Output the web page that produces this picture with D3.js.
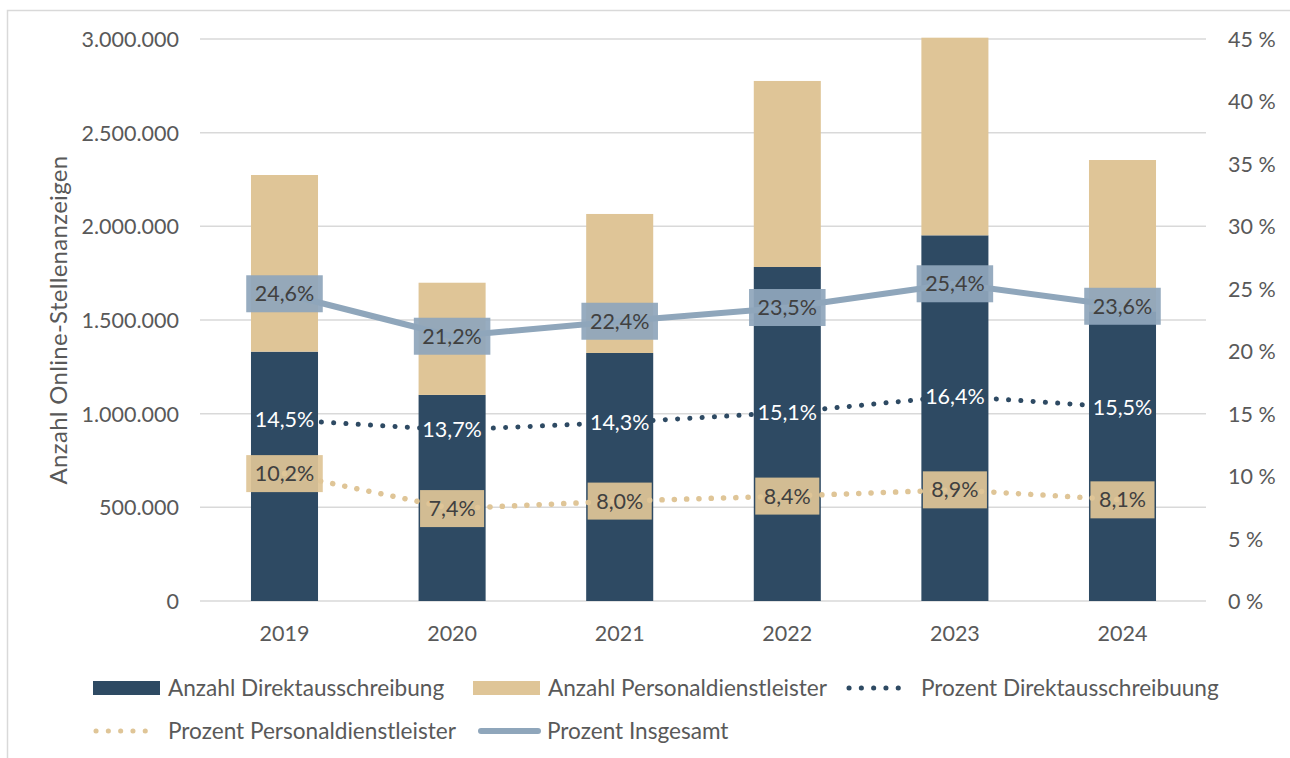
<!DOCTYPE html>
<html><head><meta charset="utf-8">
<script src="https://cdn.jsdelivr.net/npm/d3@7"></script>
<style>body{margin:0;background:#fff}svg{display:block;font-family:Lato,"Open Sans",sans-serif}</style>
</head><body><svg id="c" width="1290" height="758"></svg>
<script>
const years = ["2019","2020","2021","2022","2023","2024"];
const anzahlDirekt = [1331000, 1100000, 1324000, 1783000, 1952000, 1546000];
const anzahlPersonal = [943000, 599000, 742000, 993000, 1055000, 808000];
const prozentDirekt = [14.5, 13.7, 14.3, 15.1, 16.4, 15.5];
const prozentPersonal = [10.2, 7.4, 8.0, 8.4, 8.9, 8.1];
const prozentGesamt = [24.6, 21.2, 22.4, 23.5, 25.4, 23.6];
const leftTicks = [0, 500000, 1000000, 1500000, 2000000, 2500000, 3000000];
const rightTicks = [0, 5, 10, 15, 20, 25, 30, 35, 40, 45];

const C = {dark:"#2e4a63", tan:"#dfc597", gray:"#8fa6bb", text:"#595959", lab:"#404040", grid:"#d9d9d9"};
const svg = d3.select("#c");
svg.append("rect").attr("width",1290).attr("height",758).attr("fill","#fff");
svg.append("rect").attr("x",7.5).attr("y",10.5).attr("width",1400).attr("height",900)
  .attr("fill","none").attr("stroke","#d9d9d9").attr("stroke-width",1.5);

const x = d3.scaleBand().domain(years).range([200.7,1206.3]).paddingInner(0.6).paddingOuter(0.3);
const y = d3.scaleLinear().domain([0,3000000]).range([601,39]);
const y2 = d3.scaleLinear().domain([0,45]).range([601,39]);
const cx = d => x(d) + x.bandwidth()/2;
const fmt = d3.formatLocale({decimal:",",thousands:".",grouping:[3],currency:["","€"]});
const fNum = fmt.format(",.0f");
const fPct = fmt.format(".1f");

// gridlines
svg.append("g").selectAll("line").data(leftTicks).join("line")
  .attr("x1",200).attr("x2",1206).attr("y1",d=>y(d)).attr("y2",d=>y(d))
  .attr("stroke",C.grid).attr("stroke-width",1.5);

// left axis
const ax = svg.append("g").attr("transform","translate(179,0)")
  .call(d3.axisLeft(y).tickValues(leftTicks).tickSize(0).tickPadding(0).tickFormat(fNum));
ax.select(".domain").remove();
ax.selectAll("text").attr("fill",C.text).attr("font-size",21.5).attr("font-family","Lato").attr("dy","0.35em");

// right axis
const ar = svg.append("g").attr("transform","translate(1228,0)")
  .call(d3.axisRight(y2).tickValues(rightTicks).tickSize(0).tickPadding(0).tickFormat(d=>d+" %"));
ar.select(".domain").remove();
ar.selectAll("text").attr("fill",C.text).attr("font-size",21.5).attr("font-family","Lato").attr("dy","0.35em");

// x axis
const axx = svg.append("g").attr("transform","translate(0,633)")
  .call(d3.axisBottom(x).tickSize(0).tickPadding(0));
axx.select(".domain").remove();
axx.selectAll("text").attr("fill",C.text).attr("font-size",21.5).attr("font-family","Lato").attr("dy","0.35em");

// axis title
svg.append("text").attr("transform","translate(67,320) rotate(-90)").attr("text-anchor","middle")
  .attr("fill",C.text).attr("font-size",24).attr("letter-spacing",0.3).text("Anzahl Online-Stellenanzeigen");

// bars
const bars = svg.append("g");
bars.selectAll(".d").data(years).join("rect")
  .attr("x",d=>x(d)).attr("width",x.bandwidth())
  .attr("y",(d,i)=>y(anzahlDirekt[i])).attr("height",(d,i)=>y(0)-y(anzahlDirekt[i]))
  .attr("fill",C.dark);
bars.selectAll(".p").data(years).join("rect")
  .attr("x",d=>x(d)).attr("width",x.bandwidth())
  .attr("y",(d,i)=>y(anzahlDirekt[i]+anzahlPersonal[i])).attr("height",(d,i)=>y(anzahlDirekt[i])-y(anzahlDirekt[i]+anzahlPersonal[i]))
  .attr("fill",C.tan);

// lines
function drawLine(vals, stroke, width, dash){
  const l = d3.line().x((v,i)=>cx(years[i])).y(v=>y2(v));
  const p = svg.append("path").attr("d",l(vals)).attr("fill","none").attr("stroke",stroke).attr("stroke-width",width);
  if(dash){p.attr("stroke-dasharray",dash).attr("stroke-linecap","round");}
  else p.attr("stroke-linejoin","round");
}
drawLine(prozentDirekt, C.dark, 5, "0.1 12.2");
drawLine(prozentPersonal, C.tan, 5.5, "0.1 12.2");
drawLine(prozentGesamt, C.gray, 6, null);

// labels
function labels(vals, bg, color){
  const g = svg.append("g");
  vals.forEach((v,i)=>{
    const px = cx(years[i]), py = y2(v);
    const t = g.append("text").attr("x",px).attr("y",py).attr("dy","0.35em").attr("text-anchor","middle")
      .attr("font-size",21.5).attr("fill",color).text(fPct(v)+"%");
    if(bg){
      const w = t.node().getComputedTextLength()+17;
      g.insert("rect","text").attr("x",px-w/2).attr("y",py-18.5).attr("width",w).attr("height",37)
        .attr("fill",bg).attr("fill-opacity",0.93);
    }
  });
}
labels(prozentDirekt, null, "#ffffff");
labels(prozentPersonal, C.tan, C.lab);
labels(prozentGesamt, C.gray, C.lab);

// legend
const leg = [
  {t:"Anzahl Direktausschreibung", type:"rect", c:C.dark, x:93, y:688},
  {t:"Anzahl Personaldienstleister", type:"rect", c:C.tan, x:473, y:688},
  {t:"Prozent Direktausschreibuung", type:"dot", c:C.dark, x:846, y:688},
  {t:"Prozent Personaldienstleister", type:"dot", c:C.tan, x:93, y:731},
  {t:"Prozent Insgesamt", type:"line", c:C.gray, x:478, y:731}
];
const lg = svg.append("g");
leg.forEach(d=>{
  if(d.type==="rect") lg.append("rect").attr("x",d.x).attr("y",d.y-7).attr("width",67).attr("height",14).attr("fill",d.c);
  else if(d.type==="dot") lg.append("line").attr("x1",d.x+3).attr("x2",d.x+64).attr("y1",d.y).attr("y2",d.y)
    .attr("stroke",d.c).attr("stroke-width",5).attr("stroke-dasharray","0.1 12.2").attr("stroke-linecap","round");
  else lg.append("line").attr("x1",d.x+3).attr("x2",d.x+60).attr("y1",d.y).attr("y2",d.y)
    .attr("stroke",d.c).attr("stroke-width",6).attr("stroke-linecap","round");
  const tx = d.type==="line" ? d.x+69 : d.x+75;
  lg.append("text").attr("x",tx).attr("y",d.y).attr("dy","0.35em").attr("font-size",22.6).attr("fill",C.text).text(d.t);
});
</script></body></html>
